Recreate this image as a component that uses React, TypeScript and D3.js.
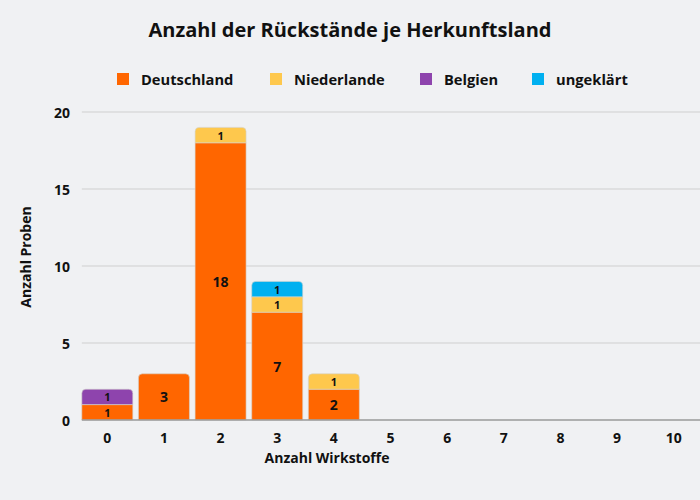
import * as d3 from "d3";
import React from "react";

const categories = ["0", "1", "2", "3", "4", "5", "6", "7", "8", "9", "10"];
const seriesNames = ["Deutschland", "Niederlande", "Belgien", "ungeklärt"];
const deutschland = [1, 3, 18, 7, 2, 0, 0, 0, 0, 0, 0];
const niederlande = [0, 0, 1, 1, 1, 0, 0, 0, 0, 0, 0];
const belgien = [1, 0, 0, 0, 0, 0, 0, 0, 0, 0, 0];
const ungeklaert = [0, 0, 0, 1, 0, 0, 0, 0, 0, 0, 0];
const yTicks = [0, 5, 10, 15, 20];

const colors = ["#ff6600", "#fec84d", "#8e44ad", "#00b0f0"];

export default function App() {
  const ref = React.useRef<SVGSVGElement | null>(null);

  const width = 700;
  const height = 500;
  const margin = { top: 112, right: 0, bottom: 80, left: 79 };
  const font = "'Open Sans', sans-serif";

  const drawElm = (el: SVGSVGElement) => {
    const svg = d3.select(el).attr("width", width).attr("height", height);
    svg.selectAll("*").remove();

    svg.append("rect").attr("width", width).attr("height", height).attr("fill", "#f0f1f3");

    const rows = categories.map((c, i) => ({
      cat: c,
      Deutschland: deutschland[i],
      Niederlande: niederlande[i],
      Belgien: belgien[i],
      "ungeklärt": ungeklaert[i],
    }));
    const stacked = d3.stack<any>().keys(seriesNames)(rows);

    const x = d3
      .scaleBand<string>()
      .domain(categories)
      .range([margin.left, width + 2])
      .paddingInner(0.1)
      .paddingOuter(0.05);
    const y = d3.scaleLinear().domain([0, 20]).range([height - margin.bottom, margin.top]);

    const gridLeft = x(categories[0])!;

    // grid
    svg
      .append("g")
      .selectAll("line")
      .data(yTicks.filter((t) => t > 0))
      .join("line")
      .attr("x1", gridLeft)
      .attr("x2", width)
      .attr("y1", (d) => y(d))
      .attr("y2", (d) => y(d))
      .attr("stroke", "#cfcfcf")
      .attr("stroke-width", 1);

    // y tick labels
    svg
      .append("g")
      .selectAll("text")
      .data(yTicks)
      .join("text")
      .text((d) => d)
      .attr("x", 70)
      .attr("y", (d) => y(d))
      .attr("text-anchor", "end")
      .attr("dominant-baseline", "central")
      .attr("font-family", font)
      .attr("font-weight", 700)
      .attr("font-size", 14)
      .attr("fill", "#111");

    // top segment per category gets rounded corners
    const topKey = categories.map((_, i) => {
      let k = -1;
      stacked.forEach((s, si) => {
        if (s[i][1] - s[i][0] > 0) k = si;
      });
      return k;
    });

    const r = 4;
    const segPath = (x0: number, w: number, yTop: number, yBot: number, round: boolean) => {
      if (!round) return `M${x0},${yBot}V${yTop}H${x0 + w}V${yBot}Z`;
      return `M${x0},${yBot}V${yTop + r}Q${x0},${yTop} ${x0 + r},${yTop}H${x0 + w - r}Q${x0 + w},${yTop} ${x0 + w},${yTop + r}V${yBot}Z`;
    };

    const bw = x.bandwidth();
    stacked.forEach((s, si) => {
      const g = svg.append("g");
      const segs = s
        .map((d, i) => ({ d, i }))
        .filter((o) => o.d[1] - o.d[0] > 0);
      g.selectAll("path")
        .data(segs)
        .join("path")
        .attr("d", (o) =>
          segPath(x(categories[o.i])!, bw, y(o.d[1]), y(o.d[0]), topKey[o.i] === si)
        )
        .attr("fill", colors[si])
        .attr("stroke", "#d4d4cc")
        .attr("stroke-width", 0.6);
      // shrink labels only where the segment is too thin for them
      g.selectAll("text")
        .data(segs)
        .join("text")
        .text((o) => o.d[1] - o.d[0])
        .attr("x", (o) => x(categories[o.i])! + bw / 2)
        .attr("y", (o) => (y(o.d[0]) + y(o.d[1])) / 2)
        .attr("text-anchor", "middle")
        .attr("dominant-baseline", "central")
        .attr("font-family", font)
        .attr("font-weight", 700)
        .attr("font-size", (o) => Math.min(14, Math.floor(((y(o.d[0]) - y(o.d[1])) / 1.38) * 2) / 2))
        .attr("fill", "#111");
    });

    // x axis line
    svg
      .append("line")
      .attr("x1", gridLeft)
      .attr("x2", width)
      .attr("y1", y(0))
      .attr("y2", y(0))
      .attr("stroke", "#9a9a9a")
      .attr("stroke-width", 1.5);

    // x tick labels
    svg
      .append("g")
      .selectAll("text")
      .data(categories)
      .join("text")
      .text((d) => d)
      .attr("x", (d) => x(d)! + bw / 2)
      .attr("y", 437)
      .attr("text-anchor", "middle")
      .attr("dominant-baseline", "central")
      .attr("font-family", font)
      .attr("font-weight", 700)
      .attr("font-size", 14)
      .attr("fill", "#111");

    // axis titles
    svg
      .append("text")
      .text("Anzahl Wirkstoffe")
      .attr("x", 327)
      .attr("y", 457)
      .attr("text-anchor", "middle")
      .attr("dominant-baseline", "central")
      .attr("font-family", font)
      .attr("font-weight", 700)
      .attr("font-size", 14)
      .attr("fill", "#111");

    svg
      .append("text")
      .text("Anzahl Proben")
      .attr("transform", `translate(25, 257) rotate(-90)`)
      .attr("text-anchor", "middle")
      .attr("dominant-baseline", "central")
      .attr("font-family", font)
      .attr("font-weight", 700)
      .attr("font-size", 14)
      .attr("fill", "#111");

    // title
    svg
      .append("text")
      .text("Anzahl der Rückstände je Herkunftsland")
      .attr("x", 350)
      .attr("y", 29)
      .attr("text-anchor", "middle")
      .attr("dominant-baseline", "central")
      .attr("font-family", font)
      .attr("font-weight", 700)
      .attr("font-size", 20)
      .attr("fill", "#111");

    // legend
    const legendX = [117, 270, 420, 532];
    const lg = svg
      .append("g")
      .selectAll("g")
      .data(seriesNames)
      .join("g")
      .attr("transform", (_, i) => `translate(${legendX[i]}, 79)`);
    lg.append("rect")
      .attr("x", 0)
      .attr("y", -6)
      .attr("width", 12)
      .attr("height", 12)
      .attr("fill", (_, i) => colors[i]);
    lg.append("text")
      .text((d) => d)
      .attr("x", 24)
      .attr("y", 0)
      .attr("dominant-baseline", "central")
      .attr("font-family", font)
      .attr("font-weight", 700)
      .attr("font-size", 14.7)
      .attr("fill", "#111");
  };

  React.useEffect(() => {
    document.body.style.margin = "0";
    if (ref.current) {
      drawElm(ref.current);
    }
  });

  return (
    <div>
      <svg ref={ref} width={width} height={height} style={{ display: "block" }}></svg>
    </div>
  );
}
